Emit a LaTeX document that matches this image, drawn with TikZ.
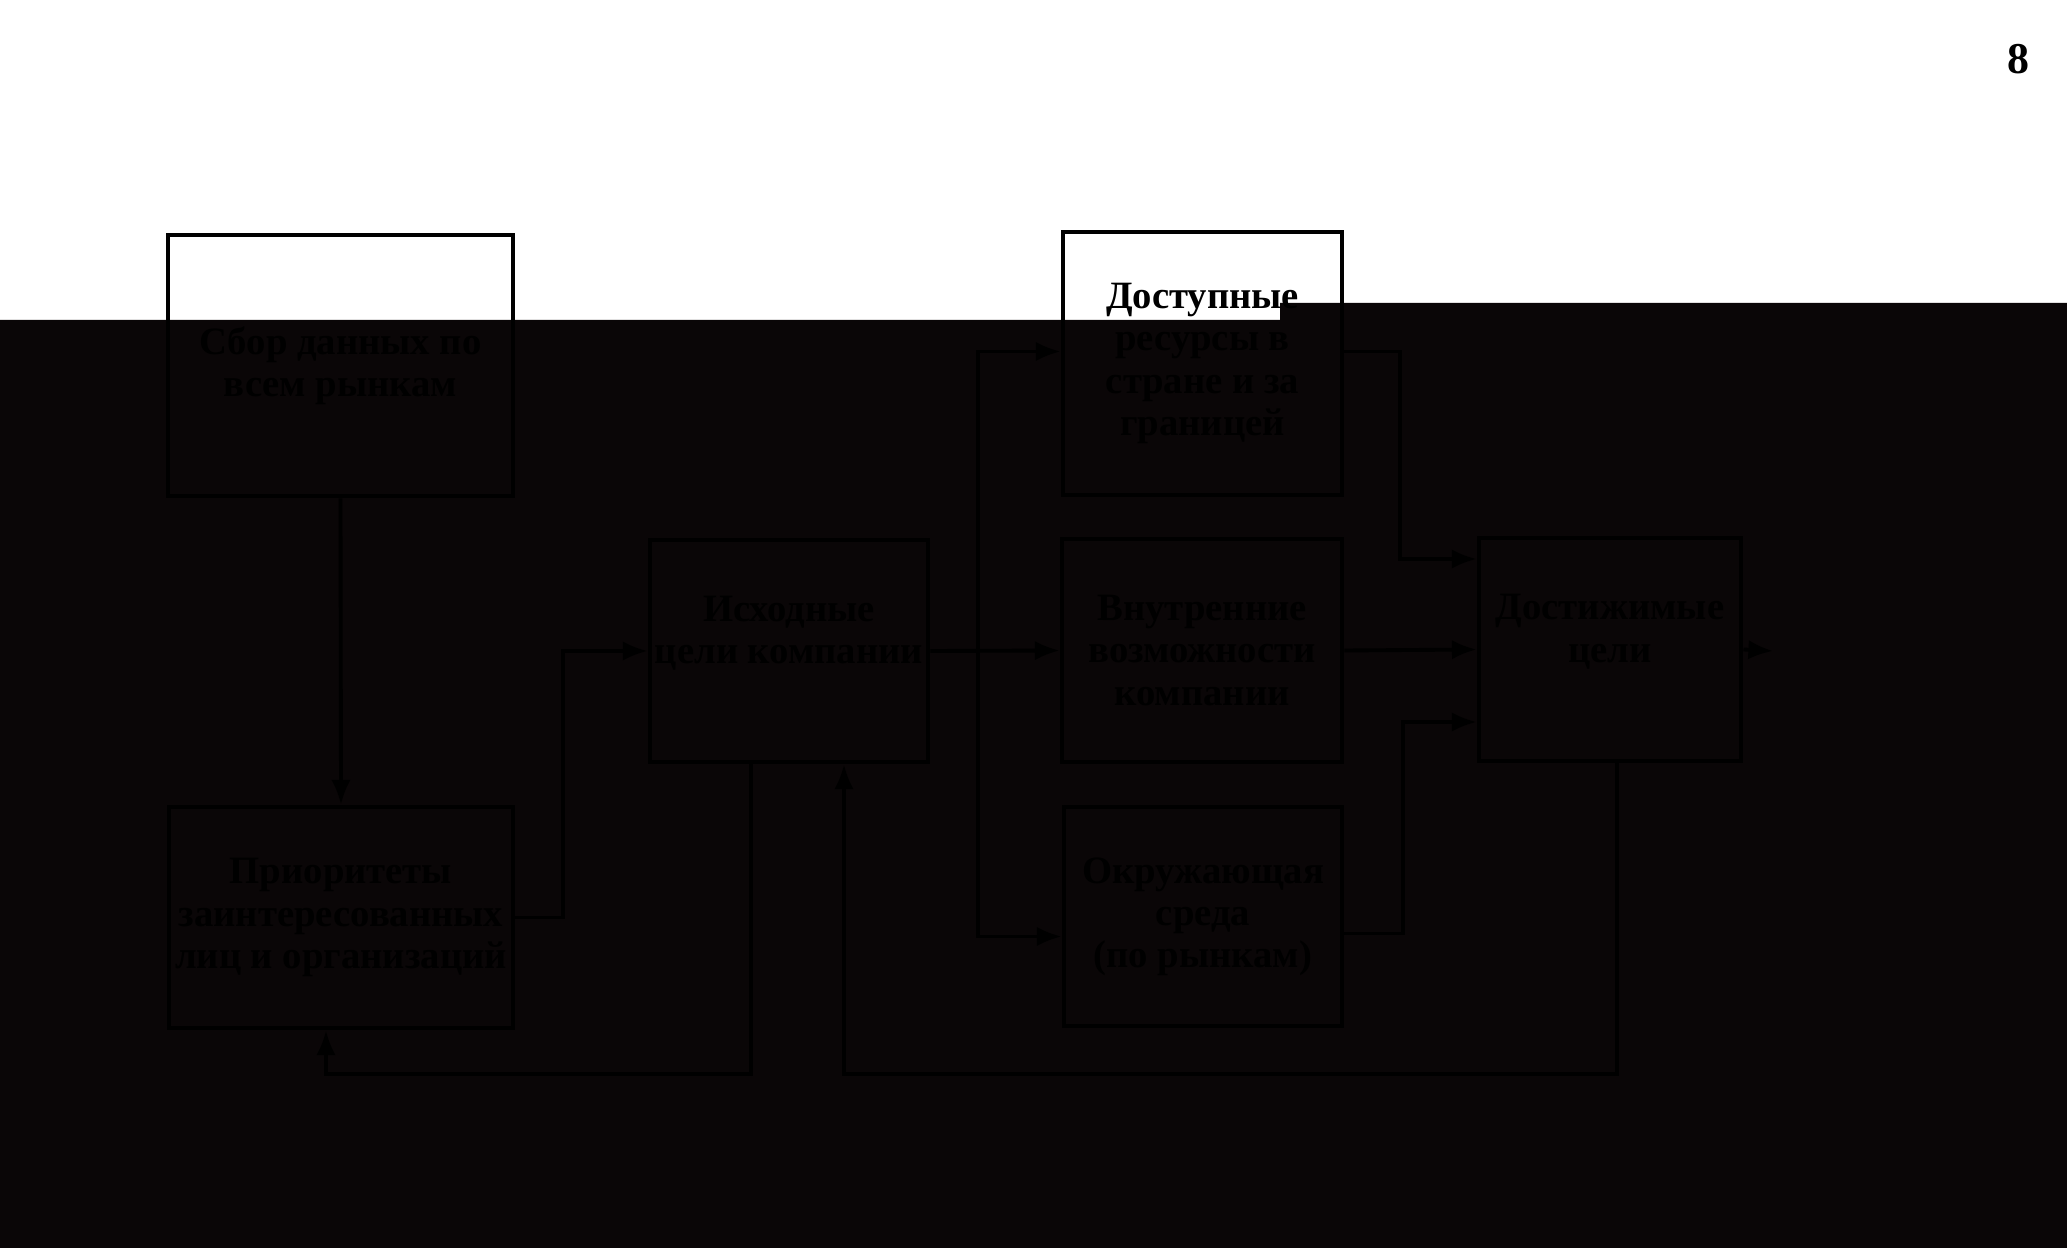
\documentclass[tikz,border=0pt]{standalone}
\usepackage{fontspec}
\setmainfont{Liberation Serif}
\usetikzlibrary{arrows.meta}
\definecolor{scanblack}{RGB}{10,6,7}

\begin{document}
\begin{tikzpicture}[>={Latex[length=7pt,width=5.5pt]},
    every node/.style={font=\fontsize{11}{12}\selectfont\bfseries},
    box/.style={draw=black, line width=1.4pt, align=center, inner sep=1pt},
    arr/.style={->, line width=1.1pt, black}]
    \useasboundingbox (0,0) rectangle (20.67,-12.48);
    % scanned page: white top, dark lower part
    \fill[white] (0,0) rectangle (20.67,-12.48);
    \fill[scanblack] (0,-3.20) -- (12.80,-3.20) -- (12.80,-3.03) -- (20.67,-3.03)
        -- (20.67,-12.48) -- (0,-12.48) -- cycle;

    \node[font=\fontsize{12.5}{15}\selectfont\bfseries] (pagenum) at (20.18,-0.59) {8};

    % blocks
    \node[box, minimum width=3.45cm, minimum height=2.61cm] (sbor) at (3.405,-3.655)
        {Сбор данных по\\всем рынкам};
    \node[box, minimum width=2.79cm, minimum height=2.63cm] (resursy) at (12.025,-3.635)
        {Доступные\\ресурсы в\\стране и за\\границей};
    \node[box, minimum width=2.78cm, minimum height=2.22cm] (iskhod) at (7.89,-6.51)
        {Исходные\\цели компании\\\mbox{}};
    \node[box, minimum width=2.80cm, minimum height=2.23cm] (vnutr) at (12.02,-6.505)
        {Внутренние\\возможности\\компании};
    \node[box, minimum width=2.62cm, minimum height=2.23cm] (dostizh) at (16.10,-6.495)
        {Достижимые\\цели\\\mbox{}};
    \node[box, minimum width=3.44cm, minimum height=2.21cm] (prior) at (3.41,-9.175)
        {Приоритеты\\заинтересованных\\лиц и организаций};
    \node[box, minimum width=2.78cm, minimum height=2.19cm] (okruzh) at (12.03,-9.165)
        {Окружающая\\среда\\(по рынкам)};

    % bends
    \coordinate (bendA) at (5.63,-6.51);
    \coordinate (split) at (9.78,-6.51);
    \coordinate (bendB) at (14.00,-5.59);
    \coordinate (bendC) at (14.03,-7.22);
    \coordinate (lowA) at (3.26,-10.74);
    \coordinate (lowB) at (8.44,-10.74);
    \coordinate (out) at (17.73,-6.51);

    % connectors
    \draw[arr] (sbor.south) -- (prior.north);
    \draw[arr] (prior.east) -| (bendA) -- (iskhod.west);
    \draw[arr] ([xshift=-0.38cm]iskhod.south) |- (lowA) -- (prior.south -| lowA);
    \draw[arr] (iskhod.east) -- (vnutr.west);
    \draw[arr] (split) |- ([yshift=0.12cm]resursy.west);
    \draw[arr] (split) |- ([yshift=-0.20cm]okruzh.west);
    \draw[arr] ([yshift=0.12cm]resursy.east) -| (bendB) -- (dostizh.west |- bendB);
    \draw[arr] (vnutr.east) -- (dostizh.west);
    \draw[arr] ([yshift=-0.17cm]okruzh.east) -| (bendC) -- (dostizh.west |- bendC);
    \draw[arr] (dostizh.east) -- (out);
    \draw[arr] ([xshift=0.07cm]dostizh.south) |- (lowB) -- (iskhod.south -| lowB);
\end{tikzpicture}
\end{document}
